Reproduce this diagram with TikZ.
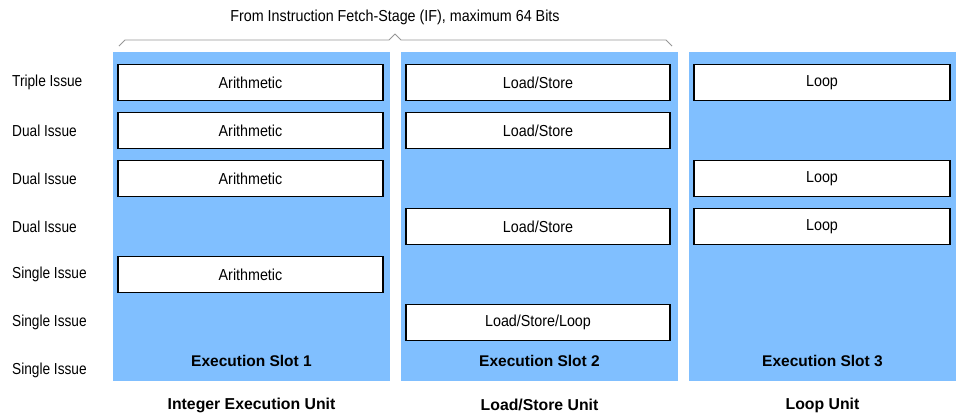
\documentclass[tikz,border=0pt]{standalone}
\usepackage{fontspec}
\setmainfont{Liberation Sans}
\newfontfamily\narrowfont[FakeStretch=0.9]{Liberation Sans}
\newfontfamily\labelfont[FakeStretch=0.86]{Liberation Sans}
\definecolor{slotblue}{RGB}{128,191,255}
\definecolor{bracegray}{RGB}{150,150,150}
\tikzset{
  opbox/.style={draw=black, fill=white, line width=1.6pt, inner sep=0pt, outer sep=0pt,
    minimum height=36pt, font=\narrowfont\fontsize{15.9}{18}\selectfont},
  issue/.style={anchor=west, inner sep=0pt, font=\labelfont\fontsize{15.9}{18}\selectfont},
  slotname/.style={inner sep=0pt, font=\bfseries\fontsize{15.5}{18}\selectfont},
  unitname/.style={inner sep=0pt, font=\bfseries\fontsize{15.8}{18}\selectfont},
}
\begin{document}
\begin{tikzpicture}[x=1pt,y=-1pt]
\useasboundingbox (0,0) rectangle (956,416);

% execution slot columns
\fill[slotblue] (113,52) rectangle (390,381);
\fill[slotblue] (401,52) rectangle (678,381);
\fill[slotblue] (689,52) rectangle (956,381);

% instruction fetch brace
\node[font=\narrowfont\fontsize{15.9}{18}\selectfont, inner sep=0pt] (fetch) at (395,17) {From Instruction Fetch-Stage (IF), maximum 64 Bits};
\draw[bracegray, line width=0.8pt, line join=round]
  (119,46) -- (125,40) -- (389,40) -- (395,34) -- (401,40) -- (666,40) -- (672,46);

% issue widths
\foreach \lbl [count=\i from 0] in {Triple Issue, Dual Issue, Dual Issue, Dual Issue, Single Issue, Single Issue, Single Issue}
  \node[issue] (issue\i) at (12,{82.5+48*\i}) {\lbl};

% slot 1: arithmetic units
\foreach \r in {0,1,2,4}
  \node[opbox, minimum width=265pt] (arith\r) at (250.5,{82.5+48*\r}) {Arithmetic};

% slot 2: load/store units
\foreach \r in {0,1,3}
  \node[opbox, minimum width=264pt] (ls\r) at (538,{82.5+48*\r}) {Load/Store};
\node[opbox, minimum width=264pt] (lsl5) at (538,322.5) {Load/Store/Loop};

% slot 3: loop units
\foreach \r in {0,2,3}
  \node[opbox, minimum width=256pt] (loop\r) at (822,{82.5+48*\r}) {Loop};

% slot and unit names
\node[slotname] (slot1) at (251.5,361) {Execution Slot 1};
\node[slotname] (slot2) at (539.5,361) {Execution Slot 2};
\node[slotname] (slot3) at (822.5,361) {Execution Slot 3};
\node[unitname] (unit1) at (251.5,405) {Integer Execution Unit};
\node[unitname] (unit2) at (539.5,405) {Load/Store Unit};
\node[unitname] (unit3) at (822.5,405) {Loop Unit};
\end{tikzpicture}
\end{document}
